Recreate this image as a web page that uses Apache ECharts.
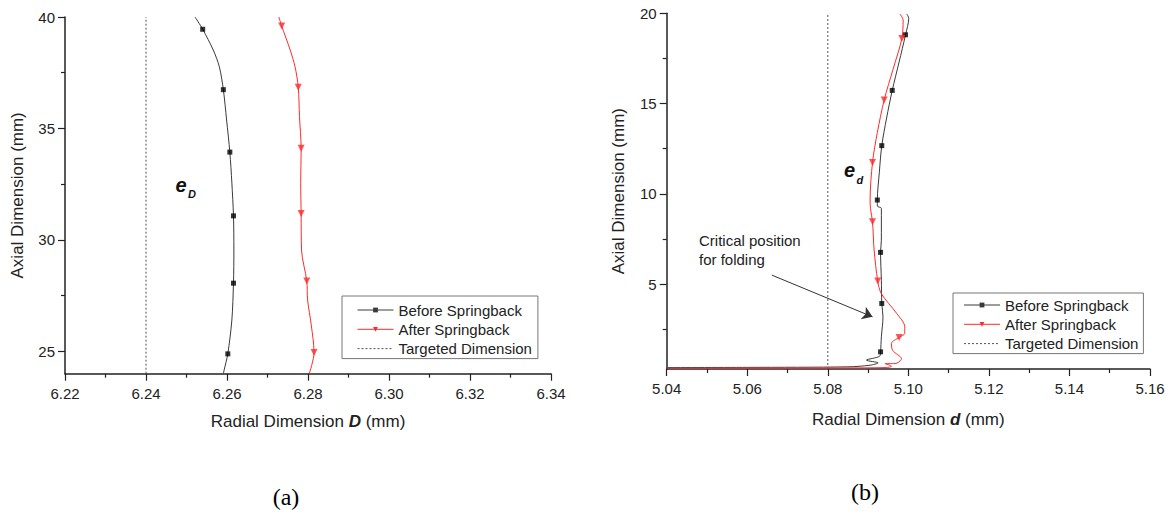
<!DOCTYPE html>
<html>
<head>
<meta charset="utf-8">
<script src="https://cdn.jsdelivr.net/npm/echarts@6/dist/echarts.min.js"></script>
<style>
html,body{margin:0;padding:0;background:#fff;}
#chart{width:1174px;height:519px;}
</style>
</head>
<body>
<div id="chart"></div>
<script>
// ---------- data: panel (a) ----------
const beforeA = [[6.2521,40.0],[6.2540,39.45],[6.2566,38.52],[6.2581,37.77],[6.2591,36.74],[6.2599,35.38],[6.2607,33.94],[6.2612,32.56],[6.2616,31.08],[6.2617,29.55],[6.2616,28.06],[6.2612,26.41],[6.2602,24.89],[6.2593,24.17],[6.2591,24.0]];
const afterA = [[6.2728,40.0],[6.2735,39.6],[6.2756,38.52],[6.2768,37.77],[6.2776,36.85],[6.2779,35.53],[6.2783,34.11],[6.2782,32.54],[6.2783,31.19],[6.2784,29.55],[6.2797,28.16],[6.2799,27.31],[6.2808,26.19],[6.2815,24.95],[6.2803,24.0]];
const markBeforeA = [[6.2540,39.45],[6.2591,36.74],[6.2607,33.94],[6.2616,31.08],[6.2616,28.06],[6.2602,24.89]];
const markAfterA = [[6.2735,39.6],[6.2776,36.85],[6.2783,34.11],[6.2783,31.19],[6.2797,28.16],[6.2815,24.95]];
const targetA = [[6.24,24],[6.24,40]];
const yTicksA = [25,30,35,40];
const yMinorA = [27.5,32.5,37.5];

// ---------- data: panel (b) ----------
const beforeB = [[5.0996,19.96],[5.1001,19.72],[5.0993,18.81],[5.0977,17.3],[5.0960,15.73],[5.0946,14.2],[5.0934,12.67],[5.0928,11.2],[5.0923,9.66],[5.0923,9.32],[5.0933,9.2],[5.0933,7.44],[5.0931,6.76],[5.0933,5.22],[5.0934,3.93],[5.0937,3.19],[5.0933,2.08],[5.0931,1.25],[5.0929,1.01],[5.0896,0.79],[5.0925,0.64],[5.0905,0.51],[5.085,0.42],[5.06,0.39],[5.04,0.38]];
const afterB = [[5.0979,19.96],[5.0987,19.63],[5.0984,18.61],[5.0962,16.9],[5.0940,15.2],[5.0923,13.4],[5.0911,11.74],[5.0905,9.66],[5.0906,9.18],[5.0911,8.45],[5.0915,6.89],[5.0924,5.17],[5.0933,4.47],[5.0971,3.38],[5.0991,2.64],[5.0991,2.27],[5.0977,2.05],[5.0958,1.71],[5.0961,1.33],[5.0983,0.87],[5.0967,0.60],[5.0942,0.60],[5.0958,0.45],[5.0945,0.38],[5.085,0.36],[5.06,0.35],[5.04,0.35]];
const markBeforeB = [[5.0993,18.81],[5.0960,15.73],[5.0934,12.67],[5.0923,9.66],[5.0931,6.76],[5.0934,3.93],[5.0931,1.25]];
const markAfterB = [[5.0984,18.61],[5.0940,15.2],[5.0911,11.74],[5.0911,8.45],[5.0924,5.17],[5.0977,2.05]];
const targetB = [[5.08,0.3],[5.08,20]];
const yTicksB = [5,10,15,20];
const yMinorB = [2.5,7.5,12.5,17.5];
const arrowB = [[5.0661,5.5],[5.0911,3.19]];

const names = ['Before Springback','After Springback','Targeted Dimension'];

const FONT = 'Liberation Sans, Arial, sans-serif';
const AX = '#222';
const BLACK = '#3a3a3a';
const RED = '#ff2a2a';

function xAxisCfg(grid, min, max, name, gap){
  return {
    type:'value', gridIndex:grid, min:min, max:max, interval:0.02,
    axisLine:{show:true, onZero:false, lineStyle:{color:AX, width:1.5}},
    axisTick:{show:true, length:7, lineStyle:{color:AX, width:1.2}},
    minorTick:{show:true, splitNumber:2, length:4, lineStyle:{color:AX, width:1.2}},
    splitLine:{show:false},
    axisLabel:{margin:12, fontSize:15, color:AX, fontFamily:FONT, formatter:v=>v.toFixed(2)},
    name:name, nameLocation:'middle', nameGap:gap,
    nameTextStyle:{fontSize:17, color:AX, fontFamily:FONT,
      rich:{b:{fontSize:17, fontWeight:'bold', fontStyle:'italic', color:AX, fontFamily:FONT}}}
  };
}
function yAxisCfg(grid, min, max, ticks, gap){
  return {
    type:'value', gridIndex:grid, min:min, max:max, position:'left',
    axisLine:{show:true, onZero:false, lineStyle:{color:AX, width:1.5}},
    axisTick:{show:true, length:7, customValues:ticks, lineStyle:{color:AX, width:1.2}},
    splitLine:{show:false},
    axisLabel:{margin:10, fontSize:15, color:AX, fontFamily:FONT, customValues:ticks},
    name:'Axial Dimension (mm)', nameLocation:'middle', nameGap:gap,
    nameTextStyle:{fontSize:17, color:AX, fontFamily:FONT}
  };
}
function yMinorCfg(grid, min, max, ticks){
  return {
    type:'value', gridIndex:grid, min:min, max:max, position:'left',
    axisLine:{show:false},
    axisTick:{show:true, length:4, customValues:ticks, lineStyle:{color:AX, width:1.2}},
    axisLabel:{show:false}, splitLine:{show:false}
  };
}
function curve(name, data, xi, yi, color, symbol, rotate){
  return {
    name:name, type:'line', xAxisIndex:xi, yAxisIndex:yi, data:data,
    smooth:0.3, showSymbol:false, symbol:symbol, symbolRotate:rotate||0,
    lineStyle:{color:color, width:1}, itemStyle:{color:color}, silent:true, z:3
  };
}
function marks(name, data, xi, yi, color, symbol, size, rotate){
  return {
    name:name, type:'scatter', xAxisIndex:xi, yAxisIndex:yi, data:data,
    symbol:symbol, symbolSize:size, symbolRotate:rotate||0,
    itemStyle:{color:color}, silent:true, z:4
  };
}
function target(data, xi, yi, extra){
  return Object.assign({
    name:'Targeted Dimension', type:'line', xAxisIndex:xi, yAxisIndex:yi, data:data,
    showSymbol:false, symbol:'none',
    lineStyle:{color:'#555', width:1, type:[2,2]}, itemStyle:{color:'#555'}, silent:true, z:2
  }, extra||{});
}
function legendCfg(left, top, padding){
  return {
    show:true, orient:'vertical', left:left, top:top, align:'left',
    data:[names[0], names[1], {name:names[2], itemStyle:{opacity:0}}],
    itemWidth:36, itemHeight:6, itemGap:3.3, padding:padding,
    borderColor:'#777', borderWidth:1, borderRadius:0, selectedMode:false,
    lineStyle:{width:1},
    textStyle:{fontSize:15, lineHeight:16, color:AX, fontFamily:FONT}
  };
}

const option = {
  animation:false,
  backgroundColor:'#fff',
  grid:[
    {left:65, top:17, width:486, height:356.7, containLabel:false},
    {left:666.7, top:13.3, width:483.3, height:355.7, containLabel:false}
  ],
  xAxis:[
    xAxisCfg(0, 6.22, 6.34, 'Radial Dimension {b|D} (mm)', 39),
    xAxisCfg(1, 5.04, 5.16, 'Radial Dimension {b|d} (mm)', 42)
  ],
  yAxis:[
    yAxisCfg(0, 24, 40, yTicksA, 39),
    yMinorCfg(0, 24, 40, yMinorA),
    yAxisCfg(1, 0.3, 20, yTicksB, 40),
    yMinorCfg(1, 0.3, 20, yMinorB)
  ],
  legend:[
    legendCfg(342, 296, [6,6,2,15]),
    legendCfg(953, 293, [4,5,2,10.5])
  ],
  series:[
    target(targetA, 0, 0),
    curve(names[0], beforeA, 0, 0, BLACK, 'rect'),
    curve(names[1], afterA, 0, 0, RED, 'triangle', 180),
    marks('mBeforeA', markBeforeA, 0, 0, '#000', 'rect', 5),
    marks('mAfterA', markAfterA, 0, 0, RED, 'triangle', 7, 180),

    target(targetB, 1, 2, {
      markLine:{
        silent:true, symbol:['none','arrow'], symbolSize:10,
        label:{show:false},
        lineStyle:{color:'#333', width:1, type:'solid'},
        data:[[{coord:arrowB[0]},{coord:arrowB[1]}]]
      }
    }),
    curve(names[0], beforeB, 1, 2, BLACK, 'rect'),
    curve(names[1], afterB, 1, 2, RED, 'triangle', 180),
    marks('mBeforeB', markBeforeB, 1, 2, '#000', 'rect', 5),
    marks('mAfterB', markAfterB, 1, 2, RED, 'triangle', 7, 180)
  ],
  graphic:[
    {type:'text', left:699, top:230.5, style:{text:'Critical position\nfor folding', font:'15px '+FONT, fill:AX, lineHeight:19.3}},
    {type:'text', x:175.5, y:185, style:{text:'e', font:'italic bold 20px '+FONT, fill:'#111', verticalAlign:'middle', align:'left'}},
    {type:'text', x:188, y:193.5, style:{text:'D', font:'italic bold 11px '+FONT, fill:'#111', verticalAlign:'middle', align:'left'}},
    {type:'text', x:844, y:170, style:{text:'e', font:'italic bold 20px '+FONT, fill:'#111', verticalAlign:'middle', align:'left'}},
    {type:'text', x:856.5, y:180, style:{text:'d', font:'italic bold 11px '+FONT, fill:'#111', verticalAlign:'middle', align:'left'}},
    {type:'text', x:286, y:497, style:{text:'(a)', font:'24px Liberation Serif, Times New Roman, serif', fill:'#000', verticalAlign:'middle', align:'center'}},
    {type:'text', x:865, y:492, style:{text:'(b)', font:'24px Liberation Serif, Times New Roman, serif', fill:'#000', verticalAlign:'middle', align:'center'}}
  ]
};

const chart = echarts.init(document.getElementById('chart'), null, {renderer:'svg', width:1174, height:519});
chart.setOption(option);
</script>
</body>
</html>
